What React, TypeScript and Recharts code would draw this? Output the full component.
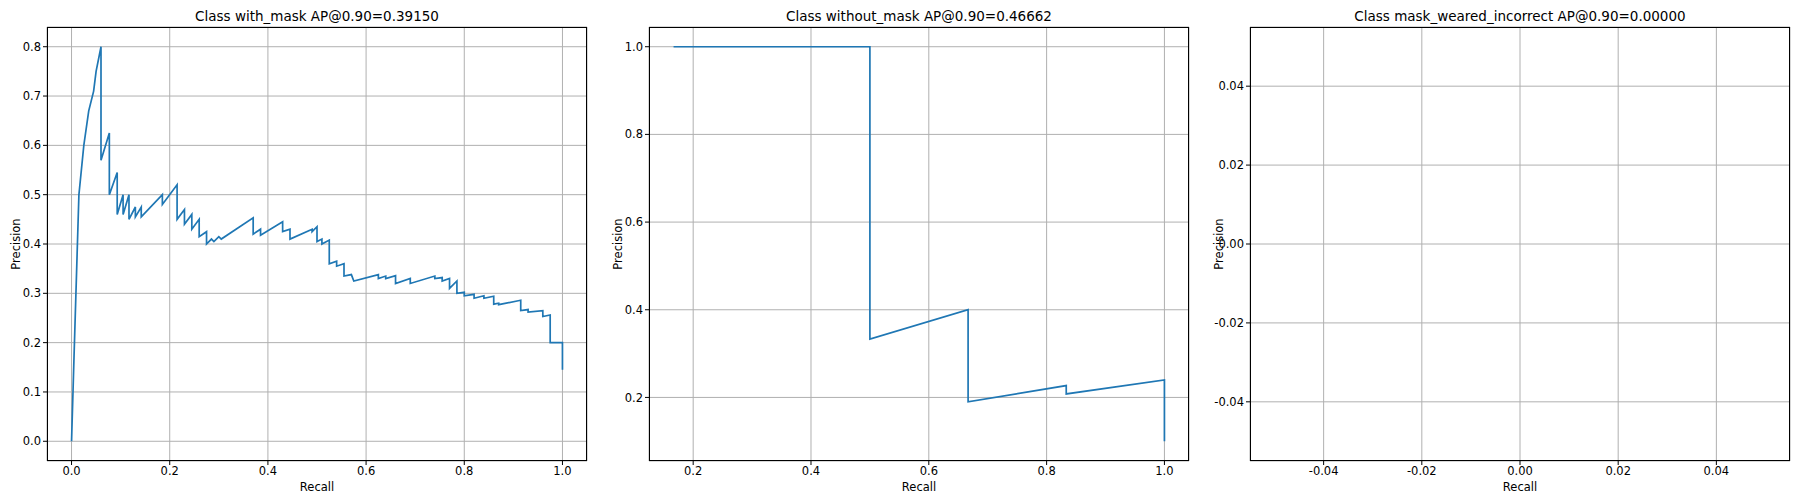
import { LineChart, Line, XAxis, YAxis, CartesianGrid } from "recharts";

// Class with_mask: recall / precision pairs
const withMaskRecall = [
  0, 0.005, 0.015, 0.025, 0.035, 0.045, 0.05, 0.06, 0.06, 0.077, 0.077, 0.093, 0.093, 0.105, 0.105, 0.117,
  0.117, 0.13, 0.13, 0.142, 0.142, 0.185, 0.185, 0.215, 0.215, 0.23, 0.23, 0.245, 0.245, 0.26, 0.26, 0.275,
  0.275, 0.285, 0.29, 0.3, 0.305, 0.37, 0.37, 0.385, 0.385, 0.43, 0.43, 0.445, 0.445, 0.49, 0.49, 0.5, 0.5,
  0.51, 0.51, 0.525, 0.525, 0.54, 0.54, 0.555, 0.555, 0.57, 0.575, 0.625, 0.625, 0.64, 0.64, 0.66, 0.66, 0.69,
  0.69, 0.74, 0.74, 0.755, 0.755, 0.77, 0.77, 0.785, 0.785, 0.8, 0.8, 0.82, 0.82, 0.84, 0.84, 0.86, 0.86, 0.87,
  0.87, 0.91, 0.915, 0.915, 0.93, 0.93, 0.96, 0.96, 0.975, 0.975, 1.0, 1.0,
];
const withMaskPrecision = [
  0, 0.17, 0.5, 0.6, 0.67, 0.71, 0.75, 0.8, 0.57, 0.625, 0.5, 0.545, 0.46, 0.5, 0.46, 0.5,
  0.45, 0.475, 0.455, 0.475, 0.455, 0.5, 0.48, 0.52, 0.45, 0.47, 0.44, 0.46, 0.43, 0.45, 0.415, 0.425,
  0.4, 0.41, 0.405, 0.415, 0.41, 0.453, 0.42, 0.43, 0.418, 0.445, 0.425, 0.43, 0.41, 0.43, 0.425, 0.435, 0.405,
  0.41, 0.4, 0.408, 0.36, 0.365, 0.355, 0.36, 0.335, 0.338, 0.325, 0.338, 0.33, 0.335, 0.33, 0.336, 0.32, 0.33,
  0.32, 0.335, 0.33, 0.332, 0.325, 0.33, 0.31, 0.325, 0.3, 0.302, 0.295, 0.298, 0.29, 0.295, 0.29, 0.294, 0.278, 0.28,
  0.277, 0.285, 0.286, 0.265, 0.267, 0.262, 0.265, 0.253, 0.256, 0.2, 0.2, 0.145,
];

// Class without_mask
const withoutMaskRecall = [0.1667, 0.5, 0.5, 0.6667, 0.6667, 0.8333, 0.8333, 1.0, 1.0];
const withoutMaskPrecision = [1.0, 1.0, 0.333, 0.4, 0.19, 0.227, 0.208, 0.24, 0.1];

const titles = [
  "Class with_mask AP@0.90=0.39150",
  "Class without_mask AP@0.90=0.46662",
  "Class mask_weared_incorrect AP@0.90=0.00000",
];

const ticks1X = [0, 0.2, 0.4, 0.6, 0.8, 1.0];
const ticks1Y = [0, 0.1, 0.2, 0.3, 0.4, 0.5, 0.6, 0.7, 0.8];
const ticks2X = [0.2, 0.4, 0.6, 0.8, 1.0];
const ticks2Y = [0.2, 0.4, 0.6, 0.8, 1.0];
const ticks3 = [-0.04, -0.02, 0, 0.02, 0.04];

const zip = (xs: number[], ys: number[]) => xs.map((r, i) => ({ r, p: ys[i] }));

const FONT = "'DejaVu Sans', sans-serif";
const TOP = 27;
const BOTTOM = 461;
const PW = 540;
const YW = 50;

type PanelProps = {
  left: number;
  title: string;
  data: { r: number; p: number }[];
  xDomain: [number, number];
  yDomain: [number, number];
  xTicks: number[];
  yTicks: number[];
  fmtX: (v: number) => string;
  fmtY: (v: number) => string;
};

const Panel = ({ left, title, data, xDomain, yDomain, xTicks, yTicks, fmtX, fmtY }: PanelProps) => {
  const tick = { fontSize: 11.5, fill: "#000", fontFamily: FONT };
  return (
    <>
      <div style={{ position: "absolute", left, top: 8, width: PW, textAlign: "center", fontSize: 13.5, fontFamily: FONT }}>
        {title}
      </div>
      <div style={{ position: "absolute", left: left - YW, top: 0 }}>
        <LineChart width={YW + PW + 5} height={504} data={data} margin={{ top: TOP, right: 5, bottom: 504 - BOTTOM - 30, left: 0 }}>
          <CartesianGrid stroke="#b0b0b0" strokeWidth={1} />
          <XAxis
            dataKey="r"
            type="number"
            domain={xDomain}
            ticks={xTicks}
            tickFormatter={fmtX}
            allowDataOverflow
            height={30}
            axisLine={false}
            tickLine={{ stroke: "#000" }}
            tickSize={4}
            tick={tick}
          />
          <YAxis
            dataKey="p"
            type="number"
            domain={yDomain}
            ticks={yTicks}
            tickFormatter={fmtY}
            allowDataOverflow
            width={YW}
            axisLine={false}
            tickLine={{ stroke: "#000" }}
            tickSize={4}
            tick={tick}
          />
          <Line dataKey="p" stroke="#1f77b4" strokeWidth={1.7} dot={false} type="linear" isAnimationActive={false} />
        </LineChart>
      </div>
      <div style={{ position: "absolute", left, top: TOP, width: PW, height: BOTTOM - TOP, border: "1px solid #000", boxSizing: "border-box", pointerEvents: "none" }} />
      <div style={{ position: "absolute", left, top: 480, width: PW, textAlign: "center", fontSize: 11.5, fontFamily: FONT }}>Recall</div>
      <div style={{ position: "absolute", left: left - 31, top: (TOP + BOTTOM) / 2, fontSize: 11.5, fontFamily: FONT, whiteSpace: "nowrap", transform: "translate(-50%,-50%) rotate(-90deg)" }}>
        Precision
      </div>
    </>
  );
};

const App = () => {
  const f1 = (v: number) => v.toFixed(1);
  const f2 = (v: number) => v.toFixed(2);
  return (
    <div style={{ position: "relative", margin: -8, width: 1800, height: 504, background: "#fff", overflow: "hidden" }}>
      <Panel left={47} title={titles[0]} data={zip(withMaskRecall, withMaskPrecision)} xDomain={[-0.05, 1.05]} yDomain={[-0.04, 0.84]} xTicks={ticks1X} yTicks={ticks1Y} fmtX={f1} fmtY={f1} />
      <Panel left={649} title={titles[1]} data={zip(withoutMaskRecall, withoutMaskPrecision)} xDomain={[0.125, 1.0417]} yDomain={[0.055, 1.045]} xTicks={ticks2X} yTicks={ticks2Y} fmtX={f1} fmtY={f1} />
      <Panel left={1250} title={titles[2]} data={[]} xDomain={[-0.055, 0.055]} yDomain={[-0.055, 0.055]} xTicks={ticks3} yTicks={ticks3} fmtX={f2} fmtY={f2} />
    </div>
  );
};

export default App;
